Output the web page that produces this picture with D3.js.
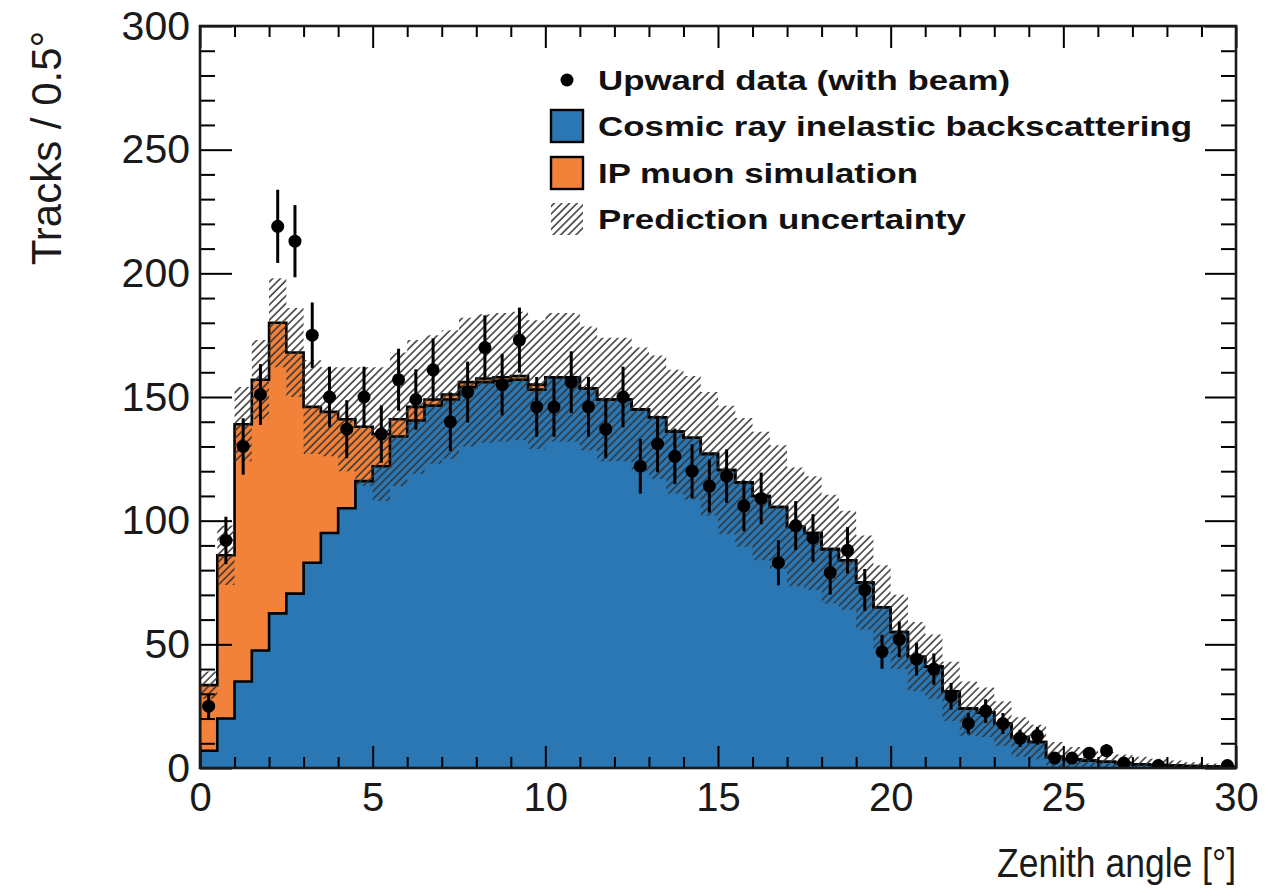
<!DOCTYPE html>
<html>
<head>
<meta charset="utf-8">
<script src="https://cdn.jsdelivr.net/npm/d3@7"></script>
<style>
  html, body { margin: 0; padding: 0; background: #fff; }
  svg { display: block; }
  text { font-family: "Liberation Sans", Arial, Helvetica, sans-serif; }
</style>
</head>
<body>
<svg id="chart" width="1283" height="896"></svg>
<script>
// ---- data (60 bins of 0.5 degree from 0 to 30) ----
const binEdges = d3.range(0, 30.0001, 0.5);
const cosmicRay = [7,20,35,47.5,62.5,70.5,83,95,105,116,122,134,140.5,146.5,149,154,156,156.5,157,153,
  158,158,153.5,149,149,145,141.8,136,133.5,127,120.5,115.5,110,105.5,97.5,95,88.5,84,75,65,
  55,45,41,31,24,22.5,18,12.5,10.5,4.5,3.5,3,2.5,2,1.5,1.2,1,0.8,0.6,0.5];
const ipMuon = [26.5,66,104,109.5,117.5,97.5,63,49,36,22,13,7,5.5,2.5,2,2,1.5,1.5,1.5,2,
  0,0,0,0,0,0,0,0,0,0,0,0,0,0,0,0,0,0,0,0,
  0,0,0,0,0,0,0,0,0,0,0,0,0,0,0,0,0,0,0,0];
const predUncertainty = [5.5,12,15,16,18,18,19,18,21,24,27,27,27,26,26,26,26,26,26,26,
  26,26,25,25,25,25,25,25,25,25,26,26,26,25,24,23,22,20,19,17,
  15,14,13,12,11,10,9,8,7,6,5,4.5,4,3.5,3,2.5,2,1.5,1.2,1];
const upwardData = [25,92,130,151,219,213,175,150,137,150,135,157,149,161,140,152,170,155,173,146,
  146,156,146,137,150,122,131,126,120,114,118,106,109,83,98,93,79,88,72,47,
  52,44,40,29,18,23,18,12,13,4,4,6,7,2,null,1,null,null,null,1];
const xMajorTicks = [0,5,10,15,20,25,30];
const yMajorTicks = [0,50,100,150,200,250,300];
const legendLabels = ["Upward data (with beam)", "Cosmic ray inelastic backscattering", "IP muon simulation", "Prediction uncertainty"];

// ---- layout ----
const svg = d3.select("#chart");
const x = d3.scaleLinear().domain([0, 30]).range([200, 1236]);
const y = d3.scaleLinear().domain([0, 300]).range([768, 26]);
const BLUE = "#2a77b3", ORANGE = "#f2813a";

const defs = svg.append("defs");
defs.append("clipPath").attr("id", "plotclip").append("rect")
  .attr("x", x(0)).attr("y", y(300)).attr("width", x(30) - x(0)).attr("height", y(0) - y(300));
const pat = defs.append("pattern").attr("id", "hatch").attr("patternUnits", "userSpaceOnUse")
  .attr("width", 5.4).attr("height", 10).attr("patternTransform", "rotate(45)");
pat.append("line").attr("x1", 1).attr("y1", 0).attr("x2", 1).attr("y2", 10)
  .attr("stroke", "#333").attr("stroke-width", 1.5);

const bins = cosmicRay.map((c, i) => {
  const ip = ipMuon[i];
  const tot = c + ip;
  const u = predUncertainty[i];
  return { x0: binEdges[i], x1: binEdges[i + 1], cosmic: c, total: tot,
           lo: Math.max(0, tot - u), hi: tot + u, data: upwardData[i] };
});

const pts = [];
bins.forEach(b => { pts.push({ x: b.x0, b }); pts.push({ x: b.x1, b }); });

const plot = svg.append("g").attr("clip-path", "url(#plotclip)");

// cosmic (blue) fill
plot.append("path")
  .attr("d", d3.area().x(p => x(p.x)).y0(y(0)).y1(p => y(p.b.cosmic))(pts))
  .attr("fill", BLUE);
// IP muon (orange) stacked on top
plot.append("path")
  .attr("d", d3.area().x(p => x(p.x)).y0(p => y(p.b.cosmic)).y1(p => y(p.b.total))(pts))
  .attr("fill", ORANGE);
// outlines
const outline = (key) => {
  const arr = [{ x: 0, v: 0 }].concat(pts.map(p => ({ x: p.x, v: p.b[key] }))).concat([{ x: 30, v: 0 }]);
  return d3.line().x(d => x(d.x)).y(d => y(d.v))(arr);
};
plot.append("path").attr("d", outline("cosmic")).attr("fill", "none")
  .attr("stroke", "#000").attr("stroke-width", 2.6).attr("stroke-linejoin", "miter");
plot.append("path").attr("d", outline("total")).attr("fill", "none")
  .attr("stroke", "#000").attr("stroke-width", 2.6).attr("stroke-linejoin", "miter");
// uncertainty band
plot.append("path")
  .attr("d", d3.area().x(p => x(p.x)).y0(p => y(p.b.lo)).y1(p => y(p.b.hi))(pts))
  .attr("fill", "url(#hatch)");

// data points with Poisson error bars
const dpts = bins.filter(b => b.data !== null);
const dg = svg.append("g").attr("clip-path", "url(#plotclip)");
dg.selectAll("line.err").data(dpts).join("line").attr("class", "err")
  .attr("x1", b => x((b.x0 + b.x1) / 2)).attr("x2", b => x((b.x0 + b.x1) / 2))
  .attr("y1", b => y(b.data + Math.sqrt(b.data))).attr("y2", b => y(Math.max(0, b.data - Math.sqrt(b.data))))
  .attr("stroke", "#000").attr("stroke-width", 3);
dg.selectAll("circle").data(dpts).join("circle")
  .attr("cx", b => x((b.x0 + b.x1) / 2)).attr("cy", b => y(b.data)).attr("r", 6.5).attr("fill", "#000");

// ---- axes ----
const xMinor = d3.range(0, 31, 1).filter(v => v % 5 !== 0);
const yMinor = d3.range(0, 301, 10).filter(v => v % 50 !== 0);
function styleAxis(size) {
  return g => {
    g.select(".domain").remove();
    g.selectAll(".tick line").attr("stroke", "#000").attr("stroke-width", 2);
    g.selectAll(".tick text").attr("fill", "#1a1a1a").style("font-size", size + "px")
      .style("font-family", '"Liberation Sans", Arial, sans-serif');
  };
}
svg.append("g").attr("transform", `translate(0,${y(0)})`)
  .call(d3.axisBottom(x).tickValues(xMajorTicks).tickSize(-22).tickPadding(15).tickFormat(d3.format("d")))
  .call(styleAxis(40));
svg.append("g").attr("transform", `translate(0,${y(0)})`)
  .call(d3.axisBottom(x).tickValues(xMinor).tickSize(-11).tickFormat("")).call(styleAxis(40));
svg.append("g").attr("transform", `translate(0,${y(300)})`)
  .call(d3.axisTop(x).tickValues(xMajorTicks).tickSize(-22).tickFormat("")).call(styleAxis(40));
svg.append("g").attr("transform", `translate(0,${y(300)})`)
  .call(d3.axisTop(x).tickValues(xMinor).tickSize(-11).tickFormat("")).call(styleAxis(40));
svg.append("g").attr("transform", `translate(${x(0)},0)`)
  .call(d3.axisLeft(y).tickValues(yMajorTicks).tickSize(-32).tickPadding(10).tickFormat(d3.format("d")))
  .call(styleAxis(41));
svg.append("g").attr("transform", `translate(${x(0)},0)`)
  .call(d3.axisLeft(y).tickValues(yMinor).tickSize(-15).tickFormat("")).call(styleAxis(41));
svg.append("g").attr("transform", `translate(${x(30)},0)`)
  .call(d3.axisRight(y).tickValues(yMajorTicks).tickSize(-31).tickFormat("")).call(styleAxis(41));
svg.append("g").attr("transform", `translate(${x(30)},0)`)
  .call(d3.axisRight(y).tickValues(yMinor).tickSize(-15).tickFormat("")).call(styleAxis(41));

// frame
svg.append("rect").attr("x", x(0)).attr("y", y(300)).attr("width", x(30) - x(0)).attr("height", y(0) - y(300))
  .attr("fill", "none").attr("stroke", "#1a1a1a").attr("stroke-width", 2.6);

// axis titles
svg.append("text").attr("x", x(30)).attr("y", 877).attr("text-anchor", "end")
  .style("font-size", "41px").attr("fill", "#1a1a1a")
  .attr("textLength", 239).attr("lengthAdjust", "spacingAndGlyphs").text("Zenith angle [°]");
svg.append("text").attr("transform", "translate(61,148) rotate(-90)").attr("text-anchor", "middle")
  .style("font-size", "42px").attr("fill", "#1a1a1a").text("Tracks / 0.5°");

// ---- legend ----
const lg = svg.append("g");
const rowY = [80, 126, 173, 219];
const textW = [412, 594, 320, 368];
lg.append("circle").attr("cx", 567).attr("cy", rowY[0]).attr("r", 6.5).attr("fill", "#000");
lg.append("rect").attr("x", 551).attr("y", rowY[1] - 16).attr("width", 32).attr("height", 32)
  .attr("fill", BLUE).attr("stroke", "#000").attr("stroke-width", 2.4);
lg.append("rect").attr("x", 551).attr("y", rowY[2] - 16).attr("width", 32).attr("height", 32)
  .attr("fill", ORANGE).attr("stroke", "#000").attr("stroke-width", 2.4);
lg.append("rect").attr("x", 551).attr("y", rowY[3] - 16).attr("width", 32).attr("height", 32)
  .attr("fill", "url(#hatch)");
legendLabels.forEach((t, i) => {
  lg.append("text").attr("x", 598).attr("y", rowY[i] + 10)
    .style("font-size", "28px").style("font-weight", "bold").attr("fill", "#111")
    .attr("textLength", textW[i]).attr("lengthAdjust", "spacingAndGlyphs").text(t);
});
</script>
</body>
</html>
